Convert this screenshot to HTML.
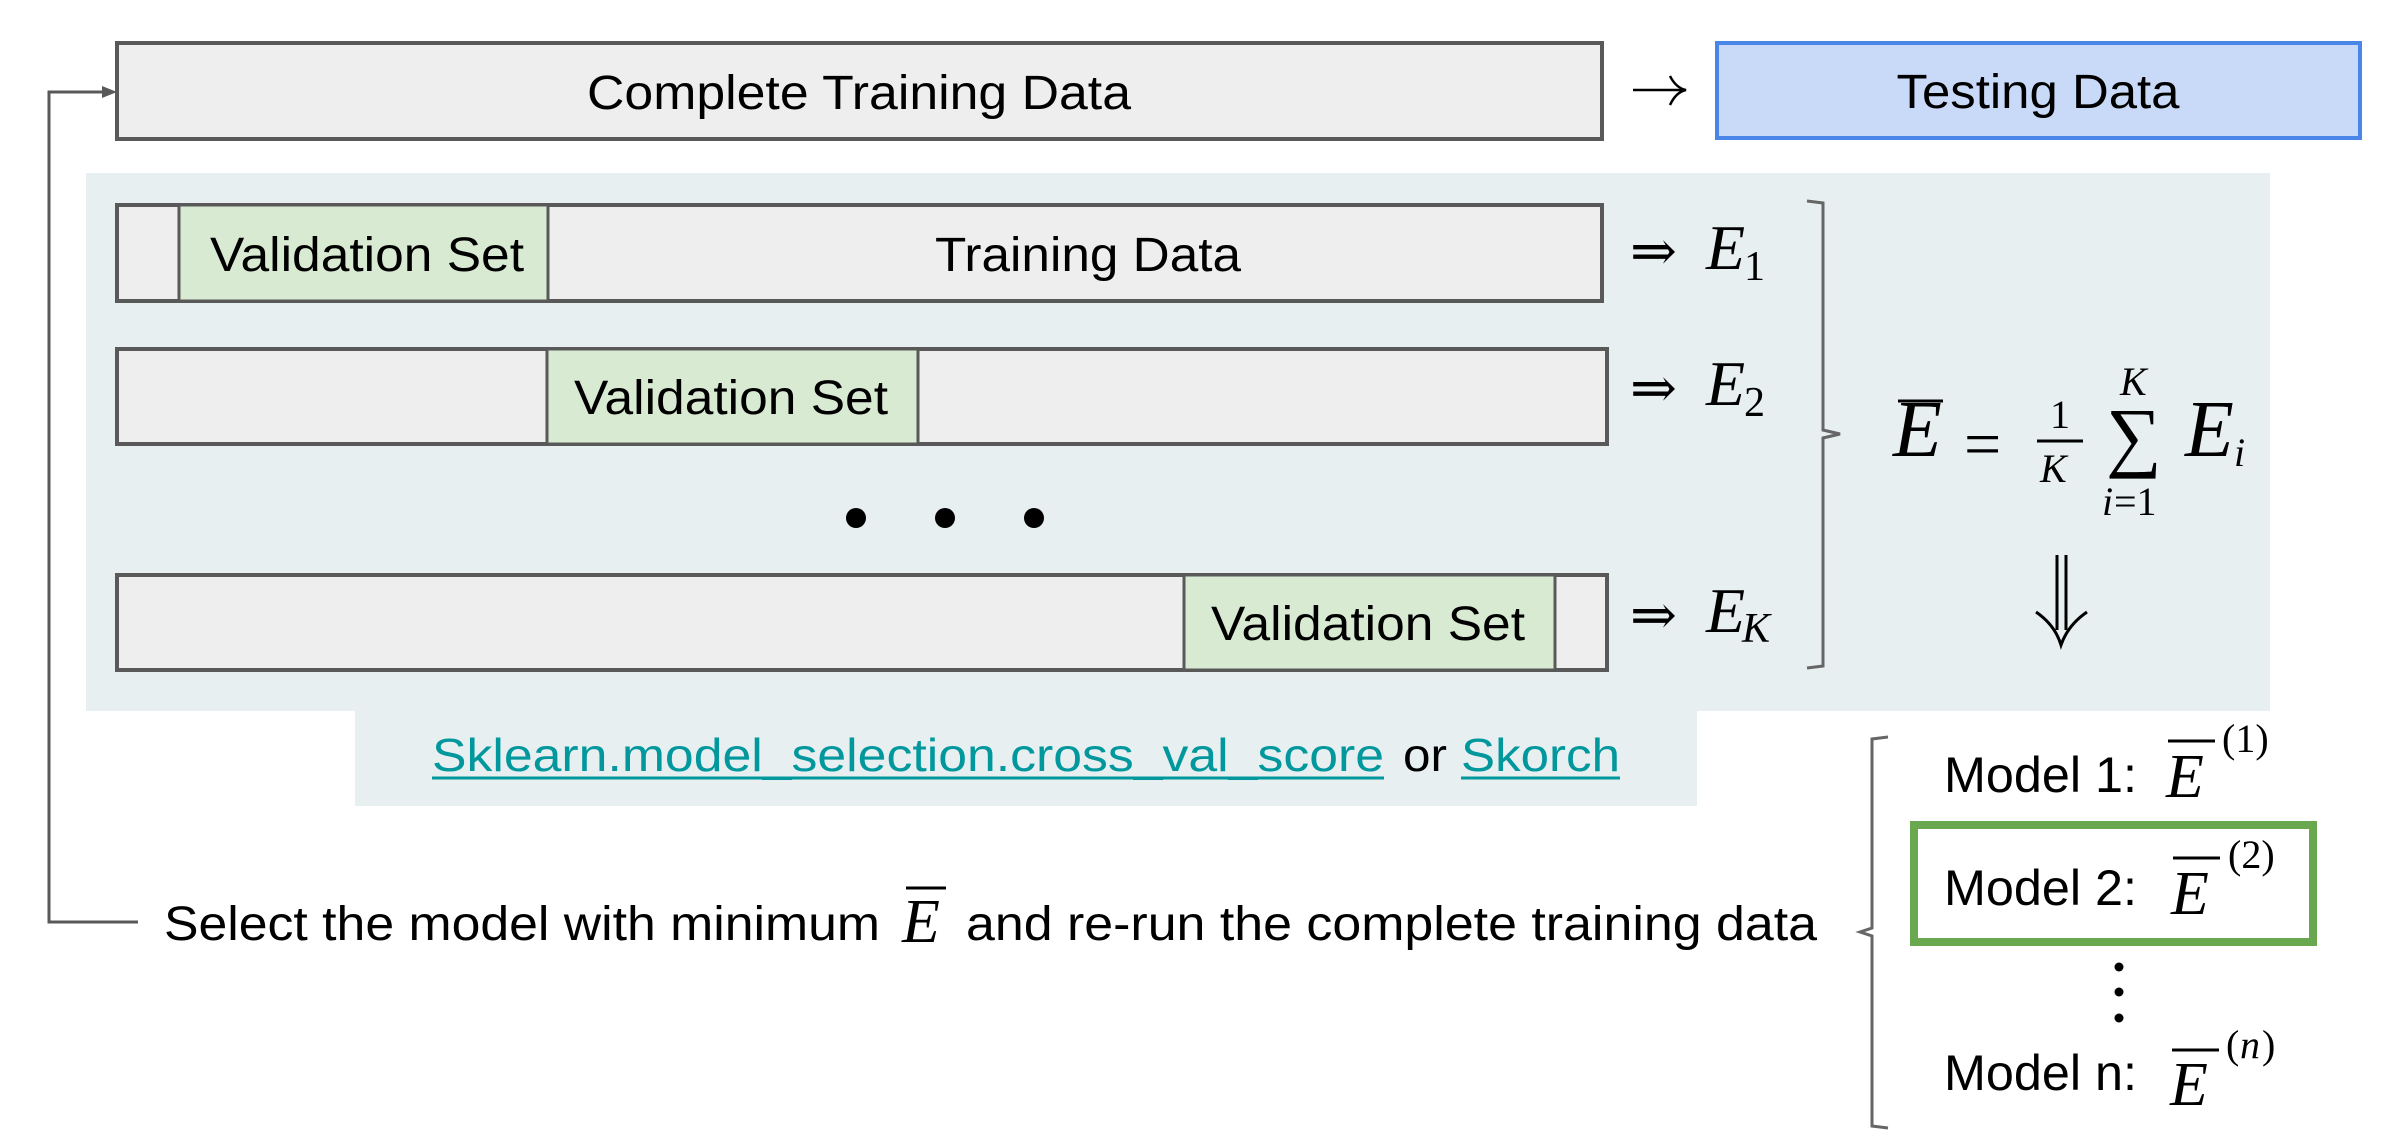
<!DOCTYPE html>
<html><head><meta charset="utf-8"><style>
html,body{margin:0;padding:0;background:#fff;}
svg{display:block;}
.s{font-family:"Liberation Sans",sans-serif;fill:#000;}
.m{font-family:"Liberation Serif","DejaVu Serif",serif;font-style:italic;fill:#000;}
.r{font-family:"Liberation Serif","DejaVu Serif",serif;fill:#000;}
</style></head><body>
<svg width="2396" height="1136" viewBox="0 0 2396 1136" xmlns="http://www.w3.org/2000/svg">
<rect x="86" y="173" width="2184" height="538" fill="#e7eff1"/>
<rect x="355" y="711" width="1342" height="95" fill="#e7eff1"/>

<rect x="117" y="43" width="1485" height="96" fill="#eeeeee" stroke="#595959" stroke-width="4"/>
<text class="s" x="859" y="109" font-size="48" text-anchor="middle" textLength="544" lengthAdjust="spacingAndGlyphs">Complete Training Data</text>
<line x1="1633" y1="90" x2="1684" y2="90" stroke="#000" stroke-width="2.5"/>
<path d="M1670 76 Q1676 88 1686 90 Q1676 92 1670 105" fill="none" stroke="#000" stroke-width="2.5"/>
<rect x="1717" y="43" width="643" height="95" fill="#c9daf8" stroke="#4a86e8" stroke-width="4"/>
<text class="s" x="2038" y="108" font-size="48" text-anchor="middle" textLength="283" lengthAdjust="spacingAndGlyphs">Testing Data</text>

<rect x="117" y="205" width="1485" height="96" fill="#eeeeee" stroke="#595959" stroke-width="4"/>
<rect x="179" y="205" width="369" height="96" fill="#d9ead3" stroke="#595959" stroke-width="3"/>
<text class="s" x="367" y="271" font-size="48" text-anchor="middle" textLength="314" lengthAdjust="spacingAndGlyphs">Validation Set</text>
<text class="s" x="1088" y="271" font-size="48" text-anchor="middle" textLength="306" lengthAdjust="spacingAndGlyphs">Training Data</text>
<rect x="117" y="349" width="1490" height="95" fill="#eeeeee" stroke="#595959" stroke-width="4"/>
<rect x="547" y="349" width="371" height="95" fill="#d9ead3" stroke="#595959" stroke-width="3"/>
<text class="s" x="731" y="414" font-size="48" text-anchor="middle" textLength="314" lengthAdjust="spacingAndGlyphs">Validation Set</text>
<circle cx="856" cy="518" r="10" fill="#000"/>
<circle cx="945" cy="518" r="10" fill="#000"/>
<circle cx="1034" cy="518" r="10" fill="#000"/>
<rect x="117" y="575" width="1490" height="95" fill="#eeeeee" stroke="#595959" stroke-width="4"/>
<rect x="1184" y="575" width="371" height="95" fill="#d9ead3" stroke="#595959" stroke-width="3"/>
<text class="s" x="1368" y="640" font-size="48" text-anchor="middle" textLength="314" lengthAdjust="spacingAndGlyphs">Validation Set</text>

<g class="r" font-size="56">
<text x="1630" y="270">⇒</text>
<text x="1630" y="407">⇒</text>
<text x="1630" y="634">⇒</text>
</g>
<text class="m" x="1706" y="269" font-size="64">E</text><text class="r" x="1744" y="280" font-size="42">1</text>
<text class="m" x="1706" y="405" font-size="64">E</text><text class="r" x="1744" y="416" font-size="42">2</text>
<text class="m" x="1706" y="632" font-size="64">E</text><text class="m" x="1742" y="642" font-size="42">K</text>

<path d="M1807 201 L1823 203 L1823 430 L1840 434 L1823 438 L1823 666 L1807 668" fill="none" stroke="#666" stroke-width="3"/>

<line x1="1898" y1="401" x2="1943" y2="401" stroke="#000" stroke-width="3"/>
<text class="m" x="1893" y="456" font-size="80">E</text>
<text class="r" x="1964" y="466" font-size="66">=</text>
<text class="r" x="2050" y="428" font-size="40">1</text>
<line x1="2037" y1="441" x2="2083" y2="441" stroke="#000" stroke-width="3"/>
<text class="m" x="2040" y="482" font-size="40">K</text>
<text class="r" x="2106" y="462" font-size="78">∑</text>
<text class="m" x="2120" y="395" font-size="40">K</text>
<text class="m" x="2102" y="515" font-size="40">i</text><text class="r" x="2114" y="515" font-size="40">=1</text>
<text class="m" x="2185" y="456" font-size="80">E</text>
<text class="m" x="2234" y="466" font-size="40">i</text>
<line x1="2057" y1="555" x2="2057" y2="630" stroke="#000" stroke-width="3"/>
<line x1="2066" y1="555" x2="2066" y2="630" stroke="#000" stroke-width="3"/>
<path d="M2036 612 Q2055 625 2061 645 Q2068 625 2087 612" fill="none" stroke="#000" stroke-width="3"/>

<text class="s" x="432" y="771" font-size="46" style="fill:#00979d" textLength="952" lengthAdjust="spacingAndGlyphs">Sklearn.model_selection.cross_val_score</text>
<line x1="432" y1="778" x2="1384" y2="778" stroke="#00979d" stroke-width="3"/>
<text class="s" x="1403" y="771" font-size="46" textLength="44" lengthAdjust="spacingAndGlyphs">or</text>
<text class="s" x="1461" y="771" font-size="46" style="fill:#00979d" textLength="159" lengthAdjust="spacingAndGlyphs">Skorch</text>
<line x1="1461" y1="778" x2="1620" y2="778" stroke="#00979d" stroke-width="3"/>

<path d="M138 922 L49 922 L49 92 L104 92" fill="none" stroke="#595959" stroke-width="3"/>
<path d="M117 92 L102 86 L102 98 Z" fill="#595959"/>

<text class="s" x="164" y="940" font-size="48" textLength="716" lengthAdjust="spacingAndGlyphs">Select the model with minimum</text>
<line x1="906" y1="888" x2="946" y2="888" stroke="#000" stroke-width="3"/>
<text class="m" x="902" y="942" font-size="62">E</text>
<text class="s" x="966" y="940" font-size="48" textLength="851" lengthAdjust="spacingAndGlyphs">and re-run the complete training data</text>

<path d="M1888 737 L1872 739 L1872 928 L1860 932 L1872 936 L1872 1126 L1888 1128" fill="none" stroke="#666" stroke-width="3"/>

<text class="s" x="1944" y="792" font-size="50" textLength="193" lengthAdjust="spacingAndGlyphs">Model 1:</text>
<line x1="2168" y1="741" x2="2215" y2="741" stroke="#000" stroke-width="3"/>
<text class="m" x="2166" y="797" font-size="62">E</text>
<text class="r" x="2222" y="752" font-size="40">(1)</text>

<rect x="1914" y="825" width="399" height="117" fill="none" stroke="#6aa84f" stroke-width="8"/>
<text class="s" x="1944" y="905" font-size="50" textLength="193" lengthAdjust="spacingAndGlyphs">Model 2:</text>
<line x1="2173" y1="858" x2="2220" y2="858" stroke="#000" stroke-width="3"/>
<text class="m" x="2171" y="914" font-size="62">E</text>
<text class="r" x="2228" y="868" font-size="40">(2)</text>

<circle cx="2119" cy="967" r="4.5" fill="#000"/>
<circle cx="2119" cy="992" r="4.5" fill="#000"/>
<circle cx="2119" cy="1018" r="4.5" fill="#000"/>

<text class="s" x="1944" y="1090" font-size="50" textLength="193" lengthAdjust="spacingAndGlyphs">Model n:</text>
<line x1="2172" y1="1050" x2="2219" y2="1050" stroke="#000" stroke-width="3"/>
<text class="m" x="2170" y="1105" font-size="62">E</text>
<text class="r" x="2226" y="1058" font-size="40">(</text><text class="m" x="2240" y="1058" font-size="40">n</text><text class="r" x="2262" y="1058" font-size="40">)</text>
</svg>
</body></html>
